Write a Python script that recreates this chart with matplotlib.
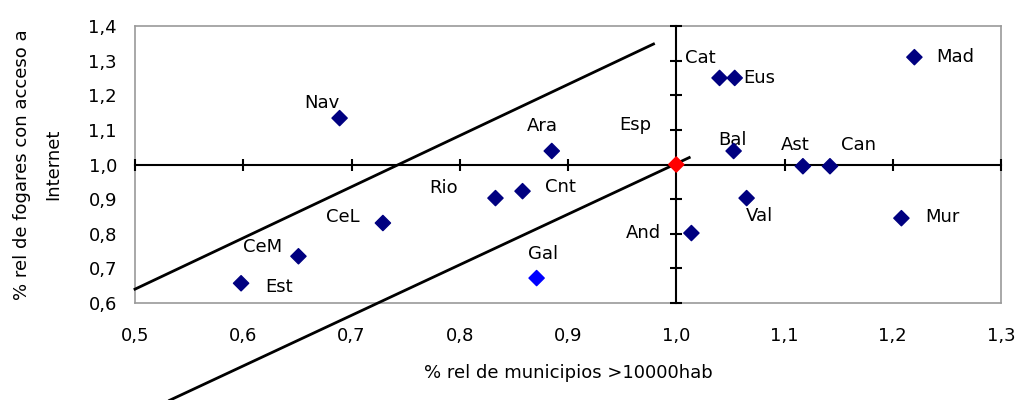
import matplotlib
matplotlib.use("Agg")
import matplotlib.pyplot as plt

# data
regions = ["Nav", "CeM", "Est", "CeL", "Rio", "Cnt", "Ara", "Gal", "Esp",
           "Cat", "Eus", "Bal", "Ast", "Can", "Val", "And", "Mur", "Mad"]
munic = [0.689, 0.651, 0.598, 0.729, 0.833, 0.858, 0.885, 0.871, 1.000,
         1.040, 1.054, 1.053, 1.117, 1.142, 1.065, 1.014, 1.208, 1.220]
fogares = [1.134, 0.735, 0.657, 0.831, 0.903, 0.923, 1.039, 0.672, 1.000,
           1.250, 1.250, 1.039, 0.995, 0.995, 0.903, 0.802, 0.845, 1.310]

# the two guide lines
upper_x = [0.500, 0.979]
upper_y = [0.640, 1.348]
lower_x = [0.532, 1.012]
lower_y = [0.319, 1.020]

xticks = [0.5, 0.6, 0.7, 0.8, 0.9, 1.0, 1.1, 1.2, 1.3]
yticks = [0.6, 0.7, 0.8, 0.9, 1.0, 1.1, 1.2, 1.3, 1.4]

# label offsets in pixels (dx, dy screen up)
offsets = {"Nav": (-18, 15), "CeM": (-36, 9), "Est": (38, -4), "CeL": (-40, 6),
           "Rio": (-52, 10), "Cnt": (38, 4), "Ara": (-9, 25), "Gal": (6, 24),
           "Esp": (-41, 40), "Cat": (-19, 20), "Eus": (25, 0), "Bal": (-1, 11),
           "Ast": (-8, 21), "Can": (29, 21), "Val": (13, -18), "And": (-48, 0),
           "Mur": (41, 1), "Mad": (41, 0)}

colors = []
for r in regions:
    if r == "Gal":
        colors.append("#0000FF")
    elif r == "Esp":
        colors.append("#FF0000")
    else:
        colors.append("#000080")

plt.rcParams['font.family'] = ['DejaVu Sans']

fig = plt.figure(figsize=(10.28, 4), dpi=100)
pos = [135 / 1028, 1 - 303 / 400, 866 / 1028, 277 / 400]
ax = fig.add_axes(pos)
ax.set_xlim(0.5, 1.3)
ax.set_ylim(0.6, 1.4)
ax.set_xticks(xticks)
ax.set_yticks(yticks)
ax.set_xticklabels([("%.1f" % v).replace(".", ",") for v in xticks])
ax.set_yticklabels([("%.1f" % v).replace(".", ",") for v in yticks])
ax.tick_params(axis="x", length=0, labelsize=13, pad=17)
ax.tick_params(axis="y", length=0, labelsize=13, pad=13)
for s in ax.spines.values():
    s.set_color("#9a9a9a")
    s.set_linewidth(1.2)

ax.set_xlabel("% rel de municipios >10000hab", fontsize=13, labelpad=14)
ax.set_ylabel("% rel de fogares con acceso a\nInternet", fontsize=13,
              labelpad=19, linespacing=1.9)

# crossing axes at 1,0 drawn on a second axes
ax2 = fig.add_axes(pos, sharex=ax, sharey=ax)
ax2.patch.set_visible(False)
ax2.spines['left'].set_position(('data', 1.0))
ax2.spines['bottom'].set_position(('data', 1.0))
ax2.spines['right'].set_visible(False)
ax2.spines['top'].set_visible(False)
ax2.spines['left'].set_linewidth(1.5)
ax2.spines['bottom'].set_linewidth(1.5)
ax2.tick_params(direction='inout', length=9, width=1.5,
                labelbottom=False, labelleft=False)

ax2.plot(upper_x, upper_y, color="black", lw=2, clip_on=False)
ax2.plot(lower_x, lower_y, color="black", lw=2, clip_on=False)

ax2.scatter(munic, fogares, marker="D", s=60, c=colors, zorder=5, clip_on=False)
for r, x, y in zip(regions, munic, fogares):
    dx, dy = offsets[r]
    ax2.annotate(r, (x, y), xytext=(dx, dy), textcoords="offset pixels",
                 ha="center", va="center", fontsize=13)

fig.savefig("out.png", dpi=100)
